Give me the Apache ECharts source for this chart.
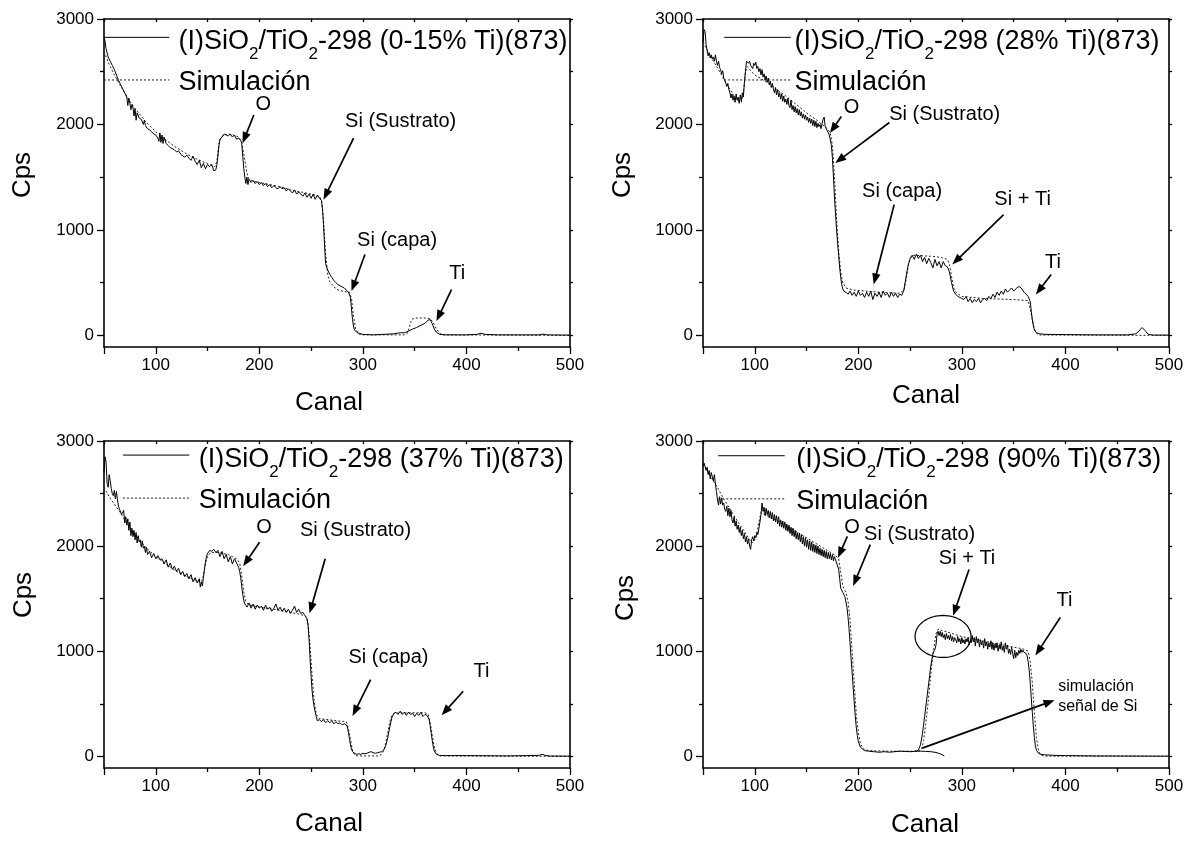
<!DOCTYPE html>
<html>
<head>
<meta charset="utf-8">
<script src="https://cdn.jsdelivr.net/npm/echarts@6/dist/echarts.min.js"></script>
<style>
  html, body { margin: 0; padding: 0; background: #fff; }
  #chart { width: 1190px; height: 843px; }
</style>
</head>
<body>
<div id="chart"></div>
<script>
// RBS spectra: [canal, cps] pairs, measured (exp*) and simulated (sim*)

const exp015 = [[50,2830],[51,2790],[52,2720],[53,2680],[54,2640],[56,2600],[58,2560],[60,2520],[62,2470],[64,2420],[66,2380],[68,2340],[70,2300],[72,2260],[73,2180],[74,2250],[75,2200],[76,2140],[77,2190],[78,2160],[79,2080],[80,2150],[81,2040],[82,2110],[84,2060],[86,2050],[88,2000],[89,2040],[90,1990],[92,1960],[94,1950],[96,1930],[98,1910],[100,1900],[102,1870],[103,1840],[104,1920],[105,1830],[106,1900],[107,1820],[108,1880],[110,1820],[112,1800],[114,1780],[116,1770],[118,1760],[120,1740],[122,1750],[124,1720],[126,1700],[128,1690],[130,1710],[132,1680],[134,1660],[136,1700],[138,1650],[140,1620],[142,1660],[144,1590],[146,1630],[148,1580],[150,1620],[152,1600],[154,1620],[156,1560],[158,1570],[159,1620],[160,1700],[161,1800],[162,1860],[164,1880],[166,1910],[168,1900],[170,1890],[172,1910],[174,1880],[176,1900],[178,1860],[180,1870],[182,1850],[183,1820],[184,1700],[185,1580],[186,1500],[187,1440],[188,1500],[189,1430],[190,1480],[192,1450],[194,1470],[196,1440],[198,1460],[200,1430],[202,1450],[204,1420],[206,1440],[208,1410],[210,1430],[212,1400],[214,1420],[216,1400],[218,1390],[220,1410],[222,1390],[224,1400],[226,1370],[228,1390],[230,1370],[232,1350],[234,1380],[236,1340],[238,1360],[240,1340],[242,1320],[244,1350],[246,1310],[248,1340],[250,1300],[252,1340],[254,1290],[256,1330],[258,1300],[260,1280],[261,1200],[262,1050],[263,850],[264,680],[266,620],[268,580],[270,550],[272,520],[274,500],[276,480],[278,470],[280,460],[282,450],[284,430],[286,410],[288,360],[289,250],[290,150],[291,80],[292,50],[294,30],[296,20],[300,10],[310,5],[320,10],[330,15],[336,25],[340,25],[344,40],[348,60],[352,75],[356,95],[360,115],[363,145],[365,150],[367,110],[369,60],[371,30],[374,10],[380,5],[400,5],[410,10],[414,20],[418,10],[430,5],[470,5],[474,12],[478,5],[500,3]];

const sim015 = [[50,2690],[55,2570],[60,2470],[65,2380],[70,2300],[75,2220],[80,2150],[90,2030],[100,1930],[110,1850],[120,1780],[130,1720],[140,1670],[150,1630],[157,1600],[159,1650],[161,1820],[163,1880],[166,1900],[170,1910],[175,1900],[180,1880],[183,1830],[185,1720],[188,1540],[190,1480],[195,1460],[200,1450],[210,1430],[220,1410],[230,1380],[240,1360],[250,1340],[258,1320],[260,1280],[262,1080],[264,780],[266,580],[268,510],[272,460],[276,430],[282,415],[287,410],[289,350],[291,180],[293,60],[296,15],[300,5],[340,5],[343,20],[345,80],[347,150],[350,165],[360,165],[365,160],[368,120],[371,60],[374,20],[377,5],[500,0]];

const exp28 = [[50,2780],[51,2900],[52,2880],[53,2760],[54,2700],[55,2650],[56,2680],[57,2630],[58,2660],[59,2620],[60,2640],[61,2600],[62,2660],[63,2600],[64,2560],[65,2600],[66,2540],[67,2520],[68,2480],[69,2510],[70,2440],[71,2420],[72,2390],[73,2360],[74,2390],[75,2330],[76,2300],[77,2250],[78,2290],[79,2230],[80,2270],[81,2210],[82,2290],[83,2230],[84,2260],[85,2200],[86,2280],[87,2220],[88,2300],[89,2260],[90,2400],[91,2500],[92,2600],[93,2610],[94,2580],[95,2600],[96,2560],[97,2570],[98,2530],[99,2580],[100,2560],[101,2590],[102,2530],[103,2550],[104,2500],[105,2530],[106,2470],[107,2520],[108,2450],[109,2480],[110,2420],[111,2460],[112,2400],[113,2440],[114,2380],[115,2410],[116,2350],[117,2390],[118,2340],[119,2300],[120,2350],[121,2280],[122,2330],[123,2260],[124,2300],[125,2240],[126,2290],[127,2220],[128,2270],[129,2210],[130,2240],[131,2190],[132,2250],[133,2180],[134,2160],[135,2230],[136,2140],[137,2180],[138,2120],[139,2170],[140,2110],[141,2150],[142,2090],[143,2140],[144,2080],[145,2120],[146,2060],[147,2100],[148,2050],[149,2090],[150,2040],[151,2070],[152,2020],[153,2060],[154,2010],[155,2050],[156,1990],[157,2040],[158,1980],[159,2030],[160,1970],[161,2010],[162,1980],[163,2000],[164,1960],[165,2010],[166,2050],[167,2070],[168,1980],[169,1960],[170,1940],[171,1920],[172,1900],[173,1890],[174,1800],[175,1680],[176,1500],[177,1300],[178,1150],[179,1000],[180,870],[181,760],[182,640],[183,550],[184,480],[185,440],[186,420],[188,410],[190,390],[192,420],[194,380],[196,410],[198,370],[200,420],[202,380],[204,400],[206,360],[208,410],[210,370],[212,420],[214,340],[216,400],[218,370],[220,410],[222,360],[224,420],[226,380],[228,400],[230,360],[232,410],[234,370],[236,400],[238,360],[240,390],[242,380],[244,430],[246,550],[248,660],[250,730],[252,760],[254,720],[256,770],[258,730],[260,760],[262,700],[264,740],[266,680],[268,730],[270,690],[272,640],[274,720],[276,660],[278,700],[280,640],[282,700],[284,660],[286,650],[288,600],[290,500],[292,420],[294,390],[296,370],[298,360],[300,350],[302,340],[304,370],[306,320],[308,350],[310,310],[312,340],[314,320],[316,350],[318,310],[320,340],[322,350],[324,330],[326,370],[328,350],[330,390],[332,360],[334,410],[336,380],[338,420],[340,390],[342,440],[344,410],[346,430],[348,450],[350,420],[352,440],[354,460],[356,460],[358,440],[360,410],[362,390],[364,370],[366,320],[367,230],[368,150],[369,90],[370,50],[372,25],[375,15],[380,10],[400,8],[430,5],[460,5],[468,15],[471,40],[474,75],[477,45],[480,10],[485,3],[500,3]];

const sim28 = [[50,2780],[55,2690],[60,2600],[65,2520],[70,2430],[75,2350],[80,2270],[84,2220],[87,2210],[89,2300],[91,2500],[93,2550],[96,2510],[100,2470],[110,2410],[120,2340],[130,2270],[140,2190],[150,2110],[160,2040],[170,1960],[173,1920],[175,1800],[177,1500],[179,1100],[181,800],[183,600],[185,500],[188,450],[195,430],[220,410],[240,400],[244,430],[246,520],[248,650],[250,730],[253,760],[270,750],[280,740],[286,720],[288,670],[290,560],[292,450],[295,400],[300,370],[320,350],[350,340],[364,330],[366,250],[368,150],[370,60],[373,10],[376,3],[500,0]];

const exp37 = [[50,2700],[51,2850],[52,2800],[53,2600],[54,2560],[55,2680],[56,2620],[57,2550],[58,2500],[59,2480],[60,2530],[61,2450],[62,2520],[63,2440],[64,2380],[65,2350],[66,2360],[67,2300],[68,2290],[69,2340],[70,2220],[71,2280],[72,2200],[73,2260],[74,2150],[75,2230],[76,2100],[77,2170],[78,2090],[79,2150],[80,2060],[81,2130],[82,2030],[83,2100],[84,2040],[85,2060],[86,1990],[87,2050],[88,1980],[89,2000],[90,1940],[91,1990],[92,1920],[94,1950],[96,1890],[98,1930],[100,1880],[102,1910],[104,1870],[106,1880],[108,1830],[110,1870],[112,1800],[114,1840],[116,1780],[118,1810],[120,1760],[122,1790],[124,1730],[126,1760],[128,1710],[130,1740],[132,1690],[134,1730],[136,1660],[138,1700],[140,1650],[142,1690],[143,1610],[144,1660],[145,1620],[146,1700],[147,1780],[148,1850],[149,1900],[150,1930],[152,1960],[154,1950],[156,1970],[158,1940],[160,1960],[162,1900],[164,1950],[166,1880],[168,1920],[170,1850],[172,1900],[174,1830],[176,1880],[178,1840],[180,1800],[181,1760],[182,1700],[183,1620],[184,1540],[185,1480],[186,1450],[188,1420],[190,1460],[192,1410],[194,1450],[196,1400],[198,1440],[200,1410],[202,1430],[204,1390],[206,1440],[208,1400],[210,1420],[212,1380],[214,1410],[216,1450],[218,1390],[220,1420],[222,1380],[224,1410],[226,1370],[228,1400],[230,1360],[232,1390],[234,1430],[236,1370],[238,1400],[240,1360],[242,1370],[244,1340],[246,1310],[247,1250],[248,1120],[249,930],[250,760],[251,620],[252,530],[253,470],[254,420],[255,380],[256,340],[258,350],[260,330],[262,350],[264,320],[266,340],[268,320],[270,340],[272,310],[274,330],[276,310],[278,320],[280,300],[282,310],[284,300],[285,280],[286,230],[287,170],[288,110],[289,70],[290,45],[292,30],[294,20],[296,25],[298,20],[300,30],[302,25],[304,30],[306,40],[308,45],[310,35],[312,30],[314,35],[316,40],[318,45],[320,60],[322,100],[324,180],[326,280],[328,370],[330,410],[332,420],[334,400],[336,430],[338,400],[340,420],[342,390],[344,420],[346,400],[348,410],[350,380],[352,410],[354,390],[356,420],[358,380],[360,400],[362,390],[364,350],[365,290],[366,220],[367,150],[368,90],[369,50],[371,20],[374,10],[380,8],[400,8],[440,5],[470,10],[473,20],[476,10],[480,4],[500,3]];

const sim37 = [[50,2560],[55,2470],[60,2400],[65,2330],[70,2250],[75,2180],[80,2110],[90,1990],[100,1900],[110,1830],[120,1760],[130,1710],[140,1670],[144,1660],[146,1720],[148,1840],[150,1900],[153,1940],[160,1940],[170,1920],[178,1880],[181,1840],[183,1720],[185,1560],[187,1470],[190,1440],[200,1420],[220,1390],[240,1350],[245,1330],[247,1270],[249,1050],[251,760],[253,520],[255,400],[258,360],[270,345],[284,330],[286,270],[288,160],[290,60],[292,15],[295,5],[315,5],[318,20],[320,50],[322,120],[324,230],[326,330],[328,390],[330,410],[340,415],[360,415],[363,400],[365,320],[367,200],[369,90],[371,30],[374,5],[500,0]];

const exp90 = [[50,2760],[51,2790],[52,2760],[53,2720],[54,2750],[55,2680],[56,2720],[57,2640],[58,2700],[59,2660],[60,2620],[61,2680],[62,2590],[63,2520],[64,2440],[65,2390],[66,2470],[67,2400],[68,2460],[69,2390],[70,2410],[71,2350],[72,2330],[73,2380],[74,2290],[75,2360],[76,2280],[77,2340],[78,2250],[79,2220],[80,2280],[81,2190],[82,2240],[83,2160],[84,2200],[85,2130],[86,2180],[87,2100],[88,2150],[89,2070],[90,2120],[91,2040],[92,2090],[93,2020],[94,2070],[95,2000],[96,1970],[97,2060],[98,2090],[99,2050],[100,2100],[101,2080],[102,2130],[103,2110],[104,2170],[105,2230],[106,2300],[107,2410],[108,2330],[109,2370],[110,2290],[111,2360],[112,2300],[113,2340],[114,2270],[115,2330],[116,2260],[117,2320],[118,2240],[119,2300],[120,2230],[121,2290],[122,2210],[123,2280],[124,2190],[125,2250],[126,2180],[127,2240],[128,2170],[129,2230],[130,2150],[131,2210],[132,2140],[133,2200],[134,2120],[135,2180],[136,2100],[137,2170],[138,2090],[139,2150],[140,2070],[141,2130],[142,2060],[143,2120],[144,2040],[145,2110],[146,2020],[147,2090],[148,2000],[149,2080],[150,1990],[151,2060],[152,1970],[153,2050],[154,1960],[155,2040],[156,1950],[157,2020],[158,1940],[159,2010],[160,1930],[161,2000],[162,1920],[163,1980],[164,1910],[165,1970],[166,1900],[167,1960],[168,1890],[169,1950],[170,1880],[171,1940],[172,1880],[173,1930],[174,1870],[175,1920],[176,1860],[177,1900],[178,1870],[179,1840],[180,1830],[181,1780],[182,1690],[183,1600],[184,1590],[185,1560],[186,1560],[187,1520],[188,1470],[189,1420],[190,1330],[191,1220],[192,1080],[193,930],[194,800],[195,660],[196,520],[197,390],[198,280],[199,200],[200,140],[202,90],[204,70],[206,55],[210,50],[215,45],[220,40],[225,45],[230,40],[240,50],[250,45],[256,50],[258,60],[260,110],[262,220],[264,380],[266,540],[268,700],[270,860],[272,980],[274,1020],[275,1060],[276,1160],[277,1190],[278,1150],[279,1190],[280,1140],[281,1180],[282,1130],[283,1160],[284,1110],[285,1170],[286,1120],[287,1150],[288,1110],[289,1160],[290,1100],[291,1140],[292,1090],[293,1130],[294,1110],[295,1080],[296,1140],[297,1090],[298,1120],[299,1070],[300,1130],[301,1080],[302,1110],[303,1070],[304,1120],[305,1090],[306,1130],[307,1060],[308,1100],[309,1080],[310,1150],[311,1090],[312,1130],[313,1050],[314,1140],[315,1080],[316,1120],[317,1040],[318,1110],[319,1060],[320,1100],[321,1030],[322,1120],[323,1050],[324,1090],[325,1020],[326,1080],[327,1040],[328,1100],[329,1020],[330,1080],[331,1010],[332,1070],[333,1030],[334,1080],[335,1000],[336,1060],[337,1020],[338,1090],[339,1010],[340,1050],[341,990],[342,1080],[343,1020],[344,1060],[345,980],[346,1020],[347,970],[348,1040],[349,980],[350,930],[351,1010],[352,940],[353,990],[354,960],[355,1010],[356,980],[357,1020],[358,990],[359,1010],[360,990],[361,1000],[362,980],[363,960],[364,900],[365,820],[366,700],[367,560],[368,420],[369,290],[370,180],[371,100],[372,60],[374,30],[376,20],[380,15],[390,10],[400,8],[430,5],[500,3]];

const sim90 = [[50,2780],[55,2700],[60,2620],[65,2540],[70,2450],[75,2370],[80,2290],[85,2210],[90,2140],[95,2060],[98,2030],[100,2060],[102,2120],[104,2230],[106,2320],[110,2300],[120,2250],[130,2200],[140,2140],[150,2080],[160,2020],[170,1960],[178,1910],[181,1880],[183,1750],[185,1620],[188,1560],[190,1480],[192,1300],[194,1000],[196,700],[198,400],[200,230],[202,120],[205,70],[210,55],[230,50],[258,50],[261,65],[263,150],[265,300],[267,480],[269,680],[271,880],[273,1030],[275,1170],[277,1210],[280,1200],[290,1170],[300,1140],[320,1100],[340,1060],[360,1020],[364,1000],[366,900],[368,700],[370,420],[372,180],[374,60],[376,15],[380,3],[500,0]];

// simulated Si signal alone (90% Ti sample)
const siSignal90 = [[255,50],[260,50],[265,48],[270,45],[275,38],[279,25],[283,5]];

// axis ticks
const xTicks = [100, 200, 300, 400, 500];
const xMajorTicks = [50, 100, 200, 300, 400, 500];
const xMinorTicks = [150, 250, 350, 450];
const xAllTicks = [50, 100, 150, 200, 250, 300, 350, 400, 450, 500];
const yTicks = [0, 1000, 2000, 3000];
const yMinorTicks = [500, 1500, 2500];
const yAllTicks = [0, 500, 1000, 1500, 2000, 2500, 3000];

// legend captions ({s|..} = subscript)
const captions = [
  '(I)SiO{s|2}/TiO{s|2}-298 (0-15% Ti)(873)',
  '(I)SiO{s|2}/TiO{s|2}-298 (28% Ti)(873)',
  '(I)SiO{s|2}/TiO{s|2}-298 (37% Ti)(873)',
  '(I)SiO{s|2}/TiO{s|2}-298 (90% Ti)(873)'
];
const simCaption = 'Simulación';

// peak labels [text, canal, cps] and arrows [[from], [to]] per panel
const notes = [
  [['O', 203.8, 2185], ['Si (Sustrato)', 336.5, 2028], ['Si (capa)', 333, 902], ['Ti', 391, 587]],
  [['O', 193.5, 2164], ['Si (Sustrato)', 283.4, 2091], ['Si (capa)', 242.3, 1366], ['Si + Ti', 358.6, 1287], ['Ti', 388, 688]],
  [['O', 204.6, 2180], ['Si (Sustrato)', 292.9, 2148], ['Si (capa)', 324.7, 945], ['Ti', 414.5, 809]],
  [['O', 193.9, 2178], ['Si (Sustrato)', 259.2, 2115], ['Si + Ti', 305, 1882], ['Ti', 399, 1479]]
];
const arrows = [
  [[[194.7,2090],[183.8,1823]], [[291,1870],[262,1287]], [[302,767],[289,420]], [[385.6,435],[371,136]]],
  [[[183.6,2076],[172.6,1918]], [[230,2019],[177.7,1634]], [[234.6,1240],[214.8,483]], [[340.3,1145],[290.7,672]], [[386.2,577],[371.5,388]]],
  [[[200.2,2038],[184.4,1808]], [[263.6,1880],[248.5,1361]], [[307.5,731],[290,384]], [[396.9,620],[376,391]]],
  [[[189.4,2093],[180.3,1889]], [[211.5,2014],[195,1621]], [[306.9,1778],[291.5,1338]], [[395,1322],[371,960]], [[261.7,79],[389.4,535]]]
];
const siSignalNote = ['simulación', 'señal de Si'];
const siSignalNoteAt = [393, 661, 472];   // canal, cps line 1, cps line 2
const circledRegion = [281.8, 1141];      // Si + Ti onset, panel 4

const FONT = '"Liberation Sans", Arial, Helvetica, sans-serif';

const layout = [
  { grid: { left: 104, top: 19, width: 466, height: 328 }, xGap: 43, xShift: 16, yGap: 68, yShift: 16,
    key: { solid: [50, 113, 2826], dotted: [50, 113, 2422], textX: 122 } },
  { grid: { left: 703, top: 19, width: 466, height: 328 }, xGap: 36, xShift: 20, yGap: 67, yShift: 16,
    key: { solid: [70.5, 134.8, 2826], dotted: [70.5, 134.8, 2422], textX: 138.4 } },
  { grid: { left: 104, top: 441, width: 466, height: 327 }, xGap: 43, xShift: 16, yGap: 67, yShift: 19,
    key: { solid: [68.3, 132.4, 2866], dotted: [68.3, 132.4, 2457], textX: 141.6 } },
  { grid: { left: 703, top: 441, width: 466, height: 327 }, xGap: 44, xShift: 22, yGap: 64, yShift: 13,
    key: { solid: [64.7, 128.9, 2860], dotted: [64.7, 128.9, 2450], textX: 140 } }
];

const measured = [exp015, exp28, exp37, exp90];
const simulated = [sim015, sim28, sim37, sim90];

const black = '#000';
const tickStyle = { color: black, width: 1.3 };
const plainNumber = (v) => String(v);

const option = { animation: false, backgroundColor: '#fff', grid: [], xAxis: [], yAxis: [], series: [] };

layout.forEach((L, i) => {
  option.grid.push(Object.assign({ containLabel: false }, L.grid));
  // bottom axis with labels and major ticks
  option.xAxis.push({
    gridIndex: i, type: 'value', position: 'bottom', min: 50, max: 500,
    axisLine: { onZero: false, lineStyle: { color: black, width: 1.6 } },
    axisTick: { customValues: xMajorTicks, length: 7, lineStyle: tickStyle },
    axisLabel: { customValues: xTicks, formatter: plainNumber, fontSize: 17, color: black, fontFamily: FONT, margin: 10 },
    splitLine: { show: false },
    name: 'Canal', nameLocation: 'middle', nameGap: L.xGap,
    nameTextStyle: { fontSize: 26, fontFamily: FONT, color: black, padding: [0, L.xShift, 0, 0] }
  });
  // bottom minor ticks
  option.xAxis.push({
    gridIndex: i, type: 'value', position: 'bottom', min: 50, max: 500,
    axisLine: { show: false, onZero: false },
    axisTick: { customValues: xMinorTicks, length: 4, lineStyle: tickStyle },
    axisLabel: { show: false }, splitLine: { show: false }
  });
  // top frame
  option.xAxis.push({
    gridIndex: i, type: 'value', position: 'top', min: 50, max: 500,
    axisLine: { onZero: false, lineStyle: { color: black, width: 1.6 } },
    axisTick: { customValues: xAllTicks, length: 3, inside: true, lineStyle: tickStyle },
    axisLabel: { show: false }, splitLine: { show: false }
  });
  // left axis with labels
  option.yAxis.push({
    gridIndex: i, type: 'value', position: 'left', min: -110, max: 3000,
    axisLine: { onZero: false, lineStyle: { color: black, width: 1.6 } },
    axisTick: { customValues: yTicks, length: 7, lineStyle: tickStyle },
    axisLabel: { customValues: yTicks, formatter: plainNumber, fontSize: 17, color: black, fontFamily: FONT, margin: 10 },
    splitLine: { show: false },
    name: 'Cps', nameLocation: 'middle', nameGap: L.yGap,
    nameTextStyle: { fontSize: 26, fontFamily: FONT, color: black, padding: [0, 0, 0, L.yShift] }
  });
  option.yAxis.push({
    gridIndex: i, type: 'value', position: 'left', min: -110, max: 3000,
    axisLine: { show: false, onZero: false },
    axisTick: { customValues: yMinorTicks, length: 4, lineStyle: tickStyle },
    axisLabel: { show: false }, splitLine: { show: false }
  });
  // right frame
  option.yAxis.push({
    gridIndex: i, type: 'value', position: 'right', min: -110, max: 3000,
    axisLine: { onZero: false, lineStyle: { color: black, width: 1.6 } },
    axisTick: { customValues: yAllTicks, length: 3, lineStyle: tickStyle },
    axisLabel: { show: false }, splitLine: { show: false }
  });

  option.series.push({
    type: 'line', name: 'Simulación', xAxisIndex: 3 * i, yAxisIndex: 3 * i,
    data: simulated[i], symbol: 'none', silent: true, z: 2,
    lineStyle: { color: '#222', width: 1, type: [2, 2] }
  });
  option.series.push({
    type: 'line', name: 'medido', xAxisIndex: 3 * i, yAxisIndex: 3 * i,
    data: measured[i], symbol: 'none', silent: true, z: 3,
    lineStyle: { color: black, width: 1 }
  });
});

option.series.push({
  type: 'line', name: 'señal de Si', xAxisIndex: 9, yAxisIndex: 9,
  data: siSignal90, symbol: 'none', silent: true, z: 3,
  lineStyle: { color: black, width: 1 }
});

const chart = echarts.init(document.getElementById('chart'), null, { renderer: 'canvas' });
chart.setOption(option);

// overlay: keys, peak labels, arrows
function arrowShapes(a, b) {
  const dx = b[0] - a[0], dy = b[1] - a[1];
  const len = Math.hypot(dx, dy), ux = dx / len, uy = dy / len;
  const hl = 11, hw = 4.2;
  const bx = b[0] - ux * hl, by = b[1] - uy * hl;
  return [
    { type: 'line', silent: true, z: 20,
      shape: { x1: a[0], y1: a[1], x2: bx + ux, y2: by + uy },
      style: { stroke: black, lineWidth: 1.7 } },
    { type: 'polygon', silent: true, z: 20,
      shape: { points: [[b[0], b[1]], [bx - uy * hw, by + ux * hw], [bx + uy * hw, by - ux * hw]] },
      style: { fill: black } }
  ];
}

const overlay = [];
layout.forEach((L, i) => {
  const px = (pt) => chart.convertToPixel({ xAxisIndex: 3 * i, yAxisIndex: 3 * i }, pt);
  const s0 = px([L.key.solid[0], L.key.solid[2]]), s1 = px([L.key.solid[1], L.key.solid[2]]);
  const d0 = px([L.key.dotted[0], L.key.dotted[2]]), d1 = px([L.key.dotted[1], L.key.dotted[2]]);
  overlay.push({ type: 'line', silent: true, z: 20, shape: { x1: s0[0], y1: s0[1], x2: s1[0], y2: s1[1] },
    style: { stroke: black, lineWidth: 1 } });
  overlay.push({ type: 'line', silent: true, z: 20, shape: { x1: d0[0], y1: d0[1], x2: d1[0], y2: d1[1] },
    style: { stroke: '#222', lineWidth: 1, lineDash: [2, 2] } });
  const tx = px([L.key.textX, 0])[0];
  overlay.push({ type: 'text', silent: true, z: 20, x: tx, y: s0[1] + 4,
    style: { text: captions[i], fontSize: 27, fontFamily: FONT, fill: black, align: 'left', verticalAlign: 'middle',
      rich: { s: { fontSize: 17, fontFamily: FONT, fill: black, lineHeight: 17, padding: [18, 0, 0, 0], verticalAlign: 'top' } } } });
  overlay.push({ type: 'text', silent: true, z: 20, x: tx, y: d0[1] + 2.5,
    style: { text: simCaption, fontSize: 27, fontFamily: FONT, fill: black, align: 'left', verticalAlign: 'middle' } });

  notes[i].forEach(([t, x, y]) => {
    const p = px([x, y]);
    overlay.push({ type: 'text', silent: true, z: 20, x: p[0], y: p[1],
      style: { text: t, fontSize: 20, fontFamily: FONT, fill: black, align: 'center', verticalAlign: 'middle' } });
  });
  arrows[i].forEach(([a, b]) => { overlay.push(...arrowShapes(px(a), px(b))); });

  if (i === 3) {
    const a = px([siSignalNoteAt[0], siSignalNoteAt[1]]);
    const b = px([siSignalNoteAt[0], siSignalNoteAt[2]]);
    overlay.push({ type: 'text', silent: true, z: 20, x: a[0], y: a[1],
      style: { text: siSignalNote[0], fontSize: 16, fontFamily: FONT, fill: black, align: 'left', verticalAlign: 'middle' } });
    overlay.push({ type: 'text', silent: true, z: 20, x: b[0], y: b[1],
      style: { text: siSignalNote[1], fontSize: 16, fontFamily: FONT, fill: black, align: 'left', verticalAlign: 'middle' } });
    const c = px(circledRegion);
    const pts = [];
    for (let k = 0; k < 72; k++) {
      const t = (k / 72) * Math.PI * 2;
      pts.push([c[0] + 28 * Math.cos(t), c[1] + 21 * Math.sin(t)]);
    }
    overlay.push({ type: 'polygon', silent: true, z: 19, shape: { points: pts },
      style: { fill: 'none', stroke: black, lineWidth: 1.2 } });
  }
});

chart.setOption({ graphic: overlay });
</script>
</body>
</html>
